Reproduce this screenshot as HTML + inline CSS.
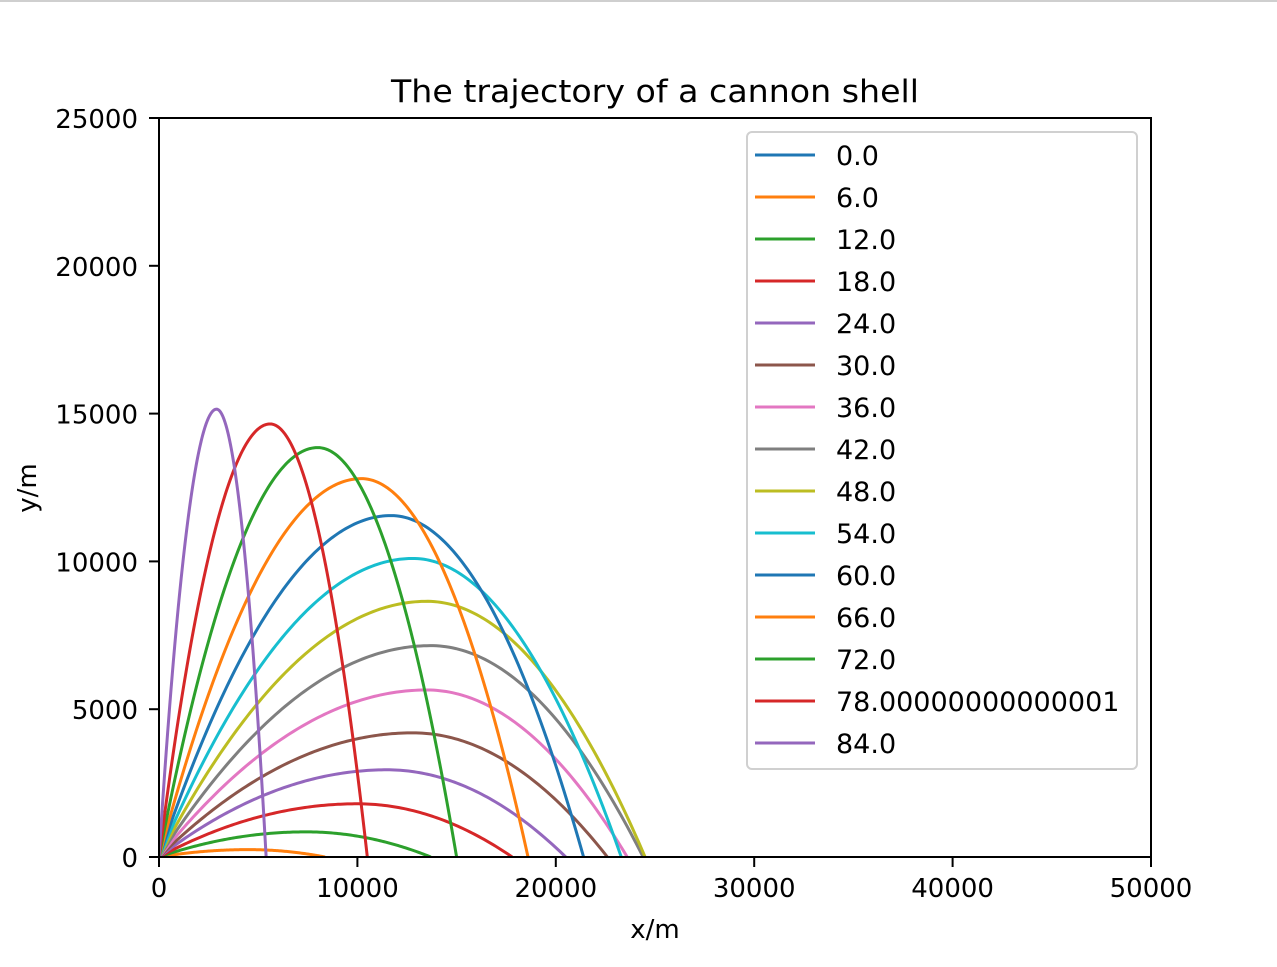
<!DOCTYPE html>
<html><head><meta charset="utf-8"><style>
body{margin:0;background:#fff;}
svg text{font-family:"DejaVu Sans","Liberation Sans",sans-serif;}
</style></head><body>
<svg id="chart" width="1277" height="962" xmlns="http://www.w3.org/2000/svg">
<rect x="0" y="0" width="1277" height="2" fill="#cfcfcf"/>
<text x="655" y="102" font-size="31" text-anchor="middle" textLength="528" lengthAdjust="spacingAndGlyphs">The trajectory of a cannon shell</text>
<g id="plot"></g>
<g id="axes"></g>
<g id="legend"></g>
</svg>
<script>
const angles = ["0.0","6.0","12.0","18.0","24.0","30.0","36.0","42.0","48.0","54.0","60.0","66.0","72.0","78.00000000000001","84.0"];
const ranges = [0,8370,13700,17800,20500,22600,23600,24400,24500,23300,21400,18600,15000,10500,5400];
const apexX = [0,4500,7400,10000,11500,12800,13500,13700,13500,12800,11700,10200,8000,5600,2900];
const apexY = [0,250,850,1800,2950,4200,5650,7150,8650,10100,11550,12800,13850,14650,15150];
const xTicks = [0,10000,20000,30000,40000,50000];
const yTicks = [0,5000,10000,15000,20000,25000];
const colors = ["#1f77b4","#ff7f0e","#2ca02c","#d62728","#9467bd","#8c564b","#e377c2","#7f7f7f","#bcbd22","#17becf"];
const NS="http://www.w3.org/2000/svg";
const L=159,R=1151,T=118,B=857;
const sx=v=>L+(v-0)/(50000-0)*(R-L);
const sy=v=>B-(v-0)/(25000-0)*(B-T);
function mk(tag,attrs,parent){const e=document.createElementNS(NS,tag);for(const k in attrs)e.setAttribute(k,attrs[k]);parent.appendChild(e);return e;}
const plot=document.getElementById('plot'),axes=document.getElementById('axes'),legend=document.getElementById('legend');
const defs=mk('defs',{},plot);const cp=mk('clipPath',{id:'clip'},defs);mk('rect',{x:L,y:T,width:R-L,height:B-T},cp);
angles.forEach((a,i)=>{
  const rg=ranges[i],px=apexX[i],py=apexY[i];
  let pts=[];
  const N=150;
  for(let k=0;k<=N;k++){
    const x=rg*k/N;let y;
    if(rg<=0){y=0;}
    else if(x<=px){const u=px>0?(px-x)/px:0;y=py*(1-u*u);}
    else{const u=(x-px)/(rg-px);y=py*(1-u*u);}
    pts.push(sx(x).toFixed(2)+","+sy(Math.max(0,y)).toFixed(2));
  }
  const pl=mk('polyline',{points:pts.join(' '),fill:'none',stroke:colors[i%10],'stroke-width':3,'clip-path':'url(#clip)'},plot);
  
  
});
mk('rect',{x:L,y:T,width:R-L,height:B-T,fill:'none',stroke:'#000','stroke-width':2},axes);
xTicks.forEach(v=>{
  const x=sx(v);
  mk('line',{x1:x,x2:x,y1:B,y2:B+10,stroke:'#000','stroke-width':2},axes);
  const t=mk('text',{x:x,y:B+40,'font-size':26,'text-anchor':'middle'},axes);t.textContent=v;
  
  
});
yTicks.forEach(v=>{
  const y=sy(v);
  mk('line',{x1:L-10,x2:L,y1:y,y2:y,stroke:'#000','stroke-width':2},axes);
  const t=mk('text',{x:L-21,y:y+10,'font-size':26,'text-anchor':'end'},axes);t.textContent=v;
  
  
});
const xt=mk('text',{x:655,y:938,'font-size':26,'text-anchor':'middle'},axes);xt.textContent='x/m';


const yt=mk('text',{x:36,y:488,'font-size':26,'text-anchor':'middle',transform:'rotate(-90 36 488)'},axes);yt.textContent='y/m';


mk('rect',{x:747,y:132,width:390,height:637,rx:5,fill:'#fff','fill-opacity':0.8,stroke:'#d0d0d0','stroke-width':2},legend);
angles.forEach((a,i)=>{
  const y=155+i*42;
  const g=mk('g',{},legend);
  
  
  mk('line',{x1:755,x2:815,y1:y,y2:y,stroke:colors[i%10],'stroke-width':3},g);
  const t=mk('text',{x:836,y:y+10,'font-size':27},g);t.textContent=a;
});
</script>
</body></html>
